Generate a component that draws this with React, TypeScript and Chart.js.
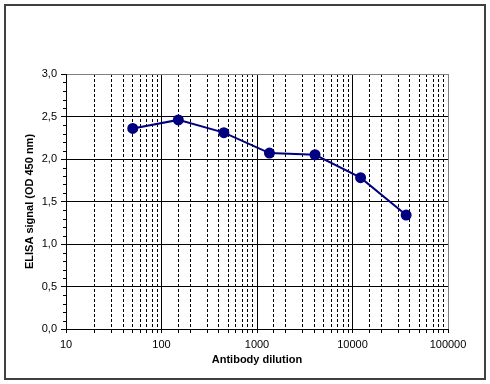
import React, { useEffect, useRef } from 'react';
import { Chart, registerables } from 'chart.js';

Chart.register(...registerables);

const dilutions = [50, 150, 450, 1350, 4050, 12150, 36450];
const signals = [2.36, 2.46, 2.31, 2.07, 2.05, 1.78, 1.34];
const xMin = 10;
const xMax = 100000;
const yMin = 0;
const yMax = 3;
const yStep = 0.5;
const yMinorStep = 0.1;
const xAxisTitle = 'Antibody dilution';
const yAxisTitle = 'ELISA signal (OD 450 nm)';

const FONT = '"Liberation Sans", Arial, sans-serif';

const isPow10 = (v: number) => {
  const l = Math.log10(v);
  return Math.abs(l - Math.round(l)) < 1e-9;
};

const framePlugin = {
  id: 'frame',
  beforeDraw(chart: any) {
    const ctx = chart.ctx;
    ctx.save();
    ctx.fillStyle = '#ffffff';
    ctx.fillRect(0, 0, chart.width, chart.height);
    ctx.strokeStyle = '#404040';
    ctx.lineWidth = 2;
    ctx.strokeRect(5, 5, chart.width - 10, chart.height - 10);
    ctx.restore();
  },
};

const minorTicksPlugin = {
  id: 'minorTicks',
  afterDraw(chart: any) {
    const ys = chart.scales.y;
    const ctx = chart.ctx;
    const left = chart.chartArea.left;
    ctx.save();
    ctx.strokeStyle = '#000';
    ctx.lineWidth = 1;
    const n = Math.round((yMax - yMin) / yMinorStep);
    for (let i = 0; i <= n; i++) {
      if (i % Math.round(yStep / yMinorStep) === 0) continue;
      const v = yMin + i * yMinorStep;
      const py = Math.round(ys.getPixelForValue(v)) + 0.5;
      ctx.beginPath();
      ctx.moveTo(left - 3, py);
      ctx.lineTo(left, py);
      ctx.stroke();
    }
    ctx.restore();
  },
};

export default function App() {
  const ref = useRef<HTMLCanvasElement | null>(null);

  useEffect(() => {
    if (!ref.current) return;
    const chart = new Chart(ref.current, {
      type: 'line',
      data: {
        datasets: [
          {
            data: dilutions.map((x, i) => ({ x, y: signals[i] })),
            borderColor: '#000080',
            backgroundColor: '#000080',
            borderWidth: 2,
            pointRadius: 4.5,
            pointBackgroundColor: '#000080',
            pointBorderColor: '#000080',
            tension: 0,
          },
        ],
      },
      options: {
        animation: false,
        responsive: false,
        events: [],
        layout: { padding: { left: 0, top: 74, right: 42, bottom: 0 } },
        plugins: {
          legend: { display: false },
          tooltip: { enabled: false },
          title: { display: false },
        },
        scales: {
          x: {
            type: 'logarithmic',
            min: xMin,
            max: xMax,
            afterFit(scale: any) {
              scale.height = 55;
            },
            grid: {
              drawTicks: true,
              tickLength: 4,
              tickColor: '#000',
              tickBorderDash: [],
              color: (ctx: any) => {
                const v = ctx.tick ? ctx.tick.value : 0;
                if (v >= xMax) return '#808080';
                return '#000';
              },
              lineWidth: 1,
            },
            border: {
              display: true,
              color: '#000',
              width: 1,
              dash: (ctx: any) => {
                if (!ctx.tick) return [];
                return isPow10(ctx.tick.value) ? [] : [3, 2];
              },
            },
            ticks: {
              autoSkip: false,
              maxRotation: 0,
              padding: 5,
              color: '#000',
              font: { family: FONT, size: 11 },
              callback: (v: any) => (isPow10(Number(v)) ? String(Math.round(Number(v))) : ''),
            },
            title: {
              display: true,
              text: xAxisTitle,
              color: '#000',
              font: { family: FONT, size: 11, weight: 'bold' },
              padding: { top: 0, bottom: 17 },
            },
          },
          y: {
            type: 'linear',
            min: yMin,
            max: yMax,
            afterFit(scale: any) {
              scale.width = 66;
            },
            grid: {
              drawTicks: true,
              tickLength: 5,
              tickColor: '#000',
              color: (ctx: any) => {
                const v = ctx.tick ? ctx.tick.value : 0;
                if (v >= yMax) return '#808080';
                return '#000';
              },
              lineWidth: 1,
            },
            border: { display: true, color: '#000', width: 1 },
            ticks: {
              stepSize: yStep,
              padding: 4,
              color: '#000',
              font: { family: FONT, size: 11 },
              callback: (v: any) => Number(v).toFixed(1).replace('.', ','),
            },
            title: {
              display: true,
              text: yAxisTitle,
              color: '#000',
              font: { family: FONT, size: 11, weight: 'bold' },
              padding: { top: 23, bottom: 0 },
            },
          },
        },
      },
      plugins: [framePlugin, minorTicksPlugin],
    } as any);
    return () => chart.destroy();
  }, []);

  return (
    <div style={{ position: 'absolute', left: 0, top: 0, width: 490, height: 384 }}>
      <canvas ref={ref} width={490} height={384} style={{ display: 'block', width: 490, height: 384 }} />
    </div>
  );
}
